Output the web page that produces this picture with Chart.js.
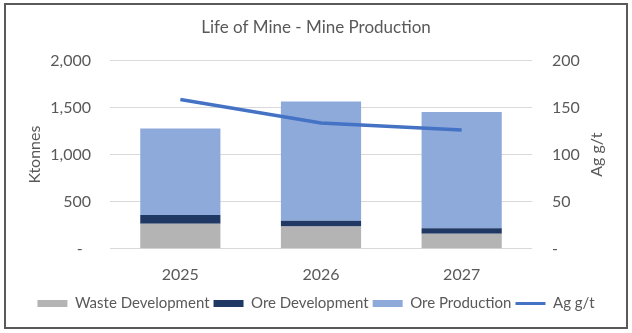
<!DOCTYPE html>
<html>
<head>
<meta charset="utf-8">
<script src="https://cdn.jsdelivr.net/npm/chart.js@4/dist/chart.umd.min.js"></script>
<style>
  html, body { margin: 0; padding: 0; background: #fff; }
  #wrap { position: relative; width: 632px; height: 333px; }
  #frame { position: absolute; left: 4px; top: 3px; width: 620px; height: 322px;
           border: 2px solid #595959; pointer-events: none; }
</style>
</head>
<body>
<div id="wrap">
  <canvas id="chart" width="632" height="333"></canvas>
  <div id="frame"></div>
</div>
<script>
// Chart data
const years = ['2025', '2026', '2027'];
const wasteDevelopment = [266, 238, 160];
const oreDevelopment = [92, 60, 57];
const oreProduction = [919, 1266, 1234];
const agGrade = [158.5, 133.5, 126];

const textColor = '#595959';
const fontFamily = 'Lato, "Liberation Sans", sans-serif';

// Draw the right axis title reading bottom-to-top, like the left one
const rightTitle = {
    id: 'rightTitle',
    afterDraw(chart) {
        const s = chart.scales.y1;
        const ctx = chart.ctx;
        ctx.save();
        ctx.translate(s.right - 25, (chart.chartArea.top + chart.chartArea.bottom) / 2);
        ctx.rotate(-Math.PI / 2);
        ctx.font = '16px ' + fontFamily;
        ctx.fillStyle = textColor;
        ctx.textAlign = 'center';
        ctx.textBaseline = 'middle';
        ctx.fillText('Ag g/t', 0, 0);
        ctx.restore();
    }
};

const ctx = document.getElementById('chart').getContext('2d');
const chart = new Chart(ctx, {
    type: 'bar',
    data: {
        labels: years,
        datasets: [
            {
                label: 'Waste Development',
                data: wasteDevelopment,
                backgroundColor: '#b4b4b4',
                yAxisID: 'y',
                order: 1
            },
            {
                label: 'Ore Development',
                data: oreDevelopment,
                backgroundColor: '#1f3864',
                yAxisID: 'y',
                order: 1
            },
            {
                label: 'Ore Production',
                data: oreProduction,
                backgroundColor: '#8eaadb',
                yAxisID: 'y',
                order: 1
            },
            {
                type: 'line',
                label: 'Ag g/t',
                data: agGrade,
                borderColor: '#4472c4',
                backgroundColor: '#4472c4',
                borderWidth: 3.5,
                pointRadius: 0,
                tension: 0,
                yAxisID: 'y1',
                order: 0
            }
        ]
    },
    options: {
        responsive: false,
        animation: false,
        layout: { padding: { left: 10, right: 10, top: 0, bottom: 12 } },
        datasets: {
            bar: { barPercentage: 0.57, categoryPercentage: 1 }
        },
        plugins: {
            title: {
                display: true,
                text: 'Life of Mine - Mine Production',
                color: textColor,
                font: { family: fontFamily, size: 17, weight: 'normal' },
                padding: { top: 17, bottom: 23 }
            },
            legend: {
                position: 'bottom',
                labels: {
                    color: textColor,
                    font: { family: fontFamily, size: 15 },
                    usePointStyle: true,
                    pointStyleWidth: 30,
                    boxHeight: 7,
                    padding: 4,
                    sort: (a, b) => a.datasetIndex - b.datasetIndex,
                    generateLabels(chart) {
                        const items = Chart.defaults.plugins.legend.labels.generateLabels(chart);
                        items.forEach(it => {
                            const ds = chart.data.datasets[it.datasetIndex];
                            if (ds.type === 'line') {
                                it.pointStyle = 'line';
                                it.lineWidth = 3;
                                it.strokeStyle = ds.borderColor;
                            } else {
                                it.pointStyle = 'rect';
                                it.lineWidth = 0;
                            }
                        });
                        return items;
                    }
                }
            },
            tooltip: { enabled: false }
        },
        scales: {
            x: {
                stacked: true,
                grid: { display: false },
                border: { display: false },
                ticks: { color: textColor, font: { family: fontFamily, size: 16 }, padding: 8 }
            },
            y: {
                stacked: true,
                position: 'left',
                min: 0,
                max: 2000,
                afterFit(scale) { scale.width = 100; },
                grid: { color: '#d9d9d9', drawTicks: false },
                border: { display: false },
                ticks: {
                    stepSize: 500,
                    padding: 19,
                    color: textColor,
                    font: { family: fontFamily, size: 16 },
                    callback: v => v === 0 ? '-  ' : v.toLocaleString('en-US')
                },
                title: {
                    display: true,
                    text: 'Ktonnes',
                    color: textColor,
                    font: { family: fontFamily, size: 16 },
                    padding: { top: 15, bottom: 0 }
                }
            },
            y1: {
                position: 'right',
                min: 0,
                max: 200,
                afterFit(scale) { scale.width = 90; },
                grid: { display: false, drawTicks: false },
                border: { display: false },
                ticks: {
                    stepSize: 50,
                    padding: 20,
                    color: textColor,
                    font: { family: fontFamily, size: 16 },
                    callback: v => v === 0 ? '-' : v
                }
            }
        }
    },
    plugins: [rightTitle]
});
</script>
</body>
</html>
